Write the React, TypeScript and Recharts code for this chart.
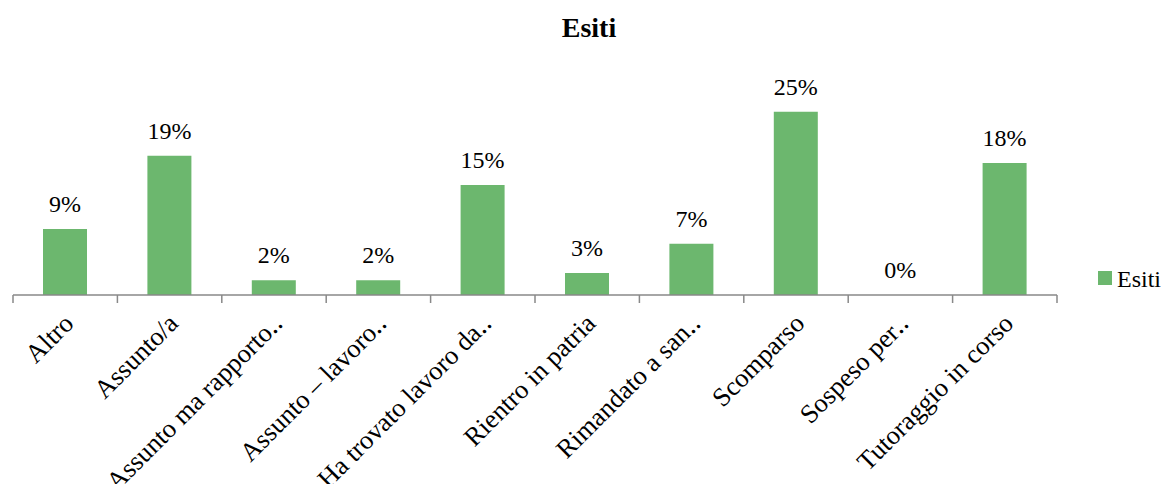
import { Bar, BarChart, LabelList, XAxis, YAxis } from 'recharts'

const categories = [
  'Altro',
  'Assunto/a',
  'Assunto ma rapporto‥',
  'Assunto – lavoro‥',
  'Ha trovato lavoro da‥',
  'Rientro in patria',
  'Rimandato a san‥',
  'Scomparso',
  'Sospeso per‥',
  'Tutoraggio in corso',
]
const esiti = [9, 19, 2, 2, 15, 3, 7, 25, 0, 18]
const yDomain = [0, 30]

const data = categories.map((name, i) => ({ name, Esiti: esiti[i] }))

const W = 1168
const H = 484
const margin = { top: 75, right: 111, bottom: 0, left: 13 }
const font = '"Liberation Serif", "Times New Roman", serif'
const green = '#6cb76e'
const axisGray = '#898989'
const step = (W - margin.left - margin.right) / categories.length

const CategoryTick = (props: any) => {
  const { x, y, payload, index } = props
  const half = step / 2
  return (
    <g>
      <line x1={x - half} y1={y} x2={x - half} y2={y + 8} stroke={axisGray} strokeWidth={1.5} />
      {index === categories.length - 1 && (
        <line x1={x + half} y1={y} x2={x + half} y2={y + 8} stroke={axisGray} strokeWidth={1.5} />
      )}
      <text
        x={x + 10}
        y={y + 30}
        transform={`rotate(-45, ${x + 10}, ${y + 30})`}
        textAnchor='end'
        fontFamily={font}
        fontSize={26.5}
        fill='#000'
      >
        {payload.value}
      </text>
    </g>
  )
}

const ValueLabel = (props: any) => {
  const { x, y, width, value } = props
  return (
    <text x={x + width / 2} y={y - 17} textAnchor='middle' fontFamily={font} fontSize={24} fill='#000'>
      {`${value}%`}
    </text>
  )
}

const App = () => {
  return (
    <div style={{ position: 'absolute', left: 0, top: 0, width: W, height: H, background: '#fff' }}>
      <BarChart width={W} height={H} data={data} margin={margin}>
        <XAxis
          dataKey='name'
          interval={0}
          height={H - 295}
          tickSize={0}
          tickMargin={0}
          tickLine={false}
          axisLine={{ stroke: axisGray, strokeWidth: 1.5 }}
          tick={<CategoryTick />}
        />
        <YAxis hide domain={yDomain} />
        <Bar dataKey='Esiti' fill={green} barSize={44} minPointSize={0.01} isAnimationActive={false}>
          <LabelList dataKey='Esiti' content={<ValueLabel />} />
        </Bar>
      </BarChart>
      <svg width={W} height={H} style={{ position: 'absolute', left: 0, top: 0, pointerEvents: 'none' }}>
        <text x={589} y={37} textAnchor='middle' fontFamily={font} fontSize={28} fontWeight='bold' fill='#000'>
          Esiti
        </text>
        <rect x={1098} y={271} width={14} height={14} fill={green} />
        <text x={1117} y={287} fontFamily={font} fontSize={24} fill='#000'>
          Esiti
        </text>
      </svg>
    </div>
  )
}

export default App
